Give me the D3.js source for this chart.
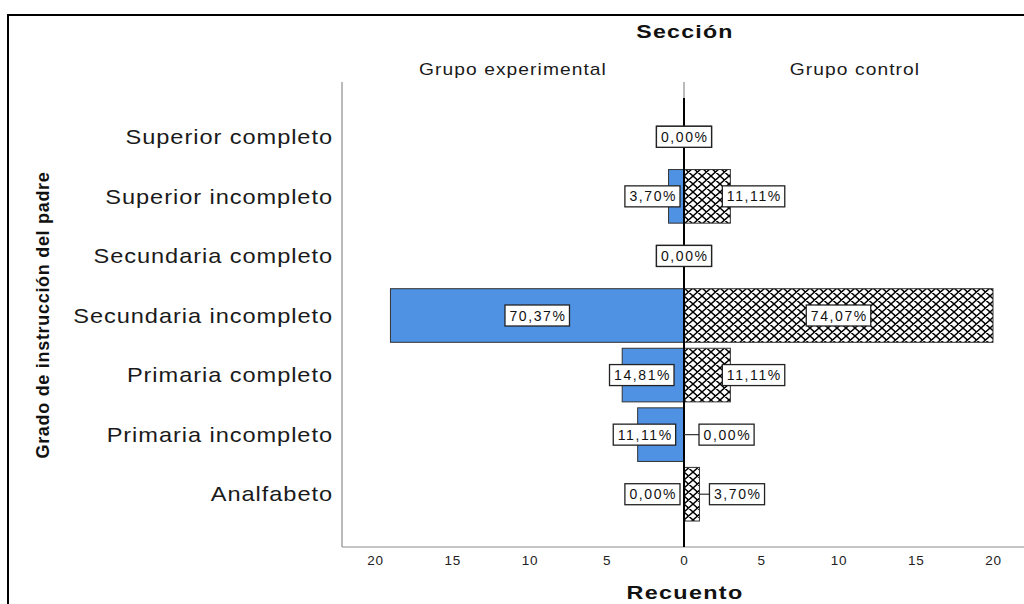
<!DOCTYPE html>
<html>
<head>
<meta charset="utf-8">
<script src="https://cdn.jsdelivr.net/npm/d3@7"></script>
<style>
  html, body { margin: 0; padding: 0; background: #fff; }
  svg { display: block; font-family: "Liberation Sans", Arial, sans-serif; }
</style>
</head>
<body>
<svg id="chart" width="1024" height="604"></svg>
<script>
// ---- Data ----
const categories = ["Superior completo", "Superior incompleto", "Secundaria completo",
  "Secundaria incompleto", "Primaria completo", "Primaria incompleto", "Analfabeto"];
const groups = ["Grupo experimental", "Grupo control"];
const experimental = [0, 1, 0, 19, 4, 3, 0];
const control = [0, 3, 0, 20, 3, 0, 1];
const expTotal = 27;
const ctrlTotal = 27;
const tickValues = [0, 5, 10, 15, 20];
const chartTitle = "Sección";
const xTitle = "Recuento";
const yTitle = "Grado de instrucción del padre";

// ---- Layout ----
const svg = d3.select("#chart");
const zero = 684, plotLeft = 342, plotRight = 1026, plotTop = 82, plotBottom = 547;
const xR = d3.scaleLinear().domain([0, 20]).range([zero, 993]);
const xL = d3.scaleLinear().domain([0, 20]).range([zero, 375]);
const y = d3.scaleBand().domain(categories).range([107, 524]).paddingInner(0.1).paddingOuter(0.05);

svg.append("rect").attr("width", 1024).attr("height", 604).attr("fill", "#fff");

function addText(parent, x, yy, txt, o) {
  const t = parent.append("text")
    .attr("transform", `translate(${x},${yy})${o.rot ? " rotate(" + o.rot + ")" : ""} scale(${o.sx || 1},1)`)
    .attr("text-anchor", o.anchor || "start")
    .attr("font-size", o.size).attr("font-weight", o.weight || "normal")
    .attr("fill", o.fill || "#1a1a1a")
    .attr("dy", o.dy || null)
    .style("letter-spacing", (o.ls || 0) + "px")
    .text(txt);
  return t;
}

// hatch pattern
const defs = svg.append("defs");
const pat = defs.append("pattern").attr("id", "hatch").attr("patternUnits", "userSpaceOnUse")
  .attr("width", 9).attr("height", 8).attr("x", zero);
pat.append("rect").attr("width", 9).attr("height", 8).attr("fill", "#fff");
pat.append("path").attr("d", "M0,0 L9,8 M9,0 L0,8 M-1,7 L1,9 M8,-1 L10,1 M8,9 L10,7 M-1,1 L1,-1")
  .attr("stroke", "#000").attr("stroke-width", 1.4);

// outer frame
svg.append("path").attr("d", "M8,604 L8,15 L1024,15").attr("fill", "none")
  .attr("stroke", "#000").attr("stroke-width", 2);

// axes lines
svg.append("line").attr("x1", plotLeft).attr("x2", plotLeft).attr("y1", plotTop).attr("y2", plotBottom)
  .attr("stroke", "#8c8c8c").attr("stroke-width", 1.2);
svg.append("line").attr("x1", plotLeft).attr("x2", plotRight).attr("y1", plotBottom).attr("y2", plotBottom)
  .attr("stroke", "#8c8c8c").attr("stroke-width", 1.2);

// tick labels via d3 axes
function styleAxis(g) {
  g.select(".domain").remove();
  g.selectAll(".tick line").remove();
  g.selectAll(".tick text").attr("font-size", 13.5).attr("fill", "#222")
    .attr("font-family", "Liberation Sans, Arial, sans-serif")
    .style("letter-spacing", "0.8px").attr("dy", "0.71em").attr("y", 8);
}
svg.append("g").attr("transform", `translate(0,${plotBottom})`)
  .call(d3.axisBottom(xR).tickValues(tickValues).tickSize(0).tickFormat(d3.format("d"))).call(styleAxis);
svg.append("g").attr("transform", `translate(0,${plotBottom})`)
  .call(d3.axisBottom(xL).tickValues(tickValues.filter(d => d > 0)).tickSize(0).tickFormat(d3.format("d"))).call(styleAxis);

// zero line
svg.append("line").attr("x1", zero).attr("x2", zero).attr("y1", plotTop).attr("y2", 100)
  .attr("stroke", "#8c8c8c").attr("stroke-width", 1.2);

// bars
svg.append("g").selectAll("rect").data(categories).join("rect")
  .attr("x", (d, i) => xL(experimental[i]))
  .attr("y", d => y(d))
  .attr("width", (d, i) => zero - xL(experimental[i]))
  .attr("height", y.bandwidth())
  .attr("fill", "#4f91e2")
  .attr("stroke", (d, i) => experimental[i] > 0 ? "#333" : "none").attr("stroke-width", 1);
svg.append("g").selectAll("rect").data(categories).join("rect")
  .attr("x", zero)
  .attr("y", d => y(d))
  .attr("width", (d, i) => xR(control[i]) - zero)
  .attr("height", y.bandwidth())
  .attr("fill", "url(#hatch)")
  .attr("stroke", (d, i) => control[i] > 0 ? "#333" : "none").attr("stroke-width", 1);

// zero line over bars
svg.append("line").attr("x1", zero).attr("x2", zero).attr("y1", 98).attr("y2", plotBottom)
  .attr("stroke", "#000").attr("stroke-width", 2);

// labels
const fmt = (c, t) => (c / t * 100).toFixed(2).replace(".", ",") + "%";
const lblG = svg.append("g");
const boxH = 21, pad = 4.5, ls = 1.6;
function drawLabel(txt, cy, placer) {
  const g = lblG.append("g");
  const rect = g.append("rect");
  const t = g.append("text").text(txt).attr("font-size", 14).attr("fill", "#111")
    .style("letter-spacing", ls + "px").attr("text-anchor", "start").attr("dy", "0.36em");
  const tw = t.node().getComputedTextLength();
  const w = tw - ls + 2 * pad;
  const p = placer(w);
  const left = p.left;
  if (p.lead) {
    g.insert("line", "rect").attr("x1", p.lead[0]).attr("x2", p.lead[1]).attr("y1", cy).attr("y2", cy)
      .attr("stroke", "#333").attr("stroke-width", 1.2);
  }
  rect.attr("x", left).attr("y", cy - boxH / 2).attr("width", w).attr("height", boxH)
    .attr("fill", "#fff").attr("stroke", "#222").attr("stroke-width", 1.3);
  t.attr("x", left + pad).attr("y", cy);
}
categories.forEach((cat, i) => {
  const cy = y(cat) + y.bandwidth() / 2;
  const e = experimental[i], c = control[i];
  const both0 = e === 0 && c === 0;
  drawLabel(fmt(e, expTotal), cy, w => {
    if (both0) return { left: zero - w / 2 };
    const bw = zero - xL(e);
    if (bw >= w + 20) return { left: (xL(e) + zero) / 2 - w / 2 };
    const right = zero - 4 - Math.max(0, (w - 57) * 0.8);
    return { left: right - w };
  });
  drawLabel(fmt(c, ctrlTotal), cy, w => {
    if (both0) return { left: zero - w / 2 };
    const bw = xR(c) - zero;
    if (bw >= w + 20) return { left: (xR(c) + zero) / 2 - w / 2 };
    if (bw >= 30) return { left: xR(c) - 8 };
    if (bw > 0) return { left: xR(c) + 10, lead: [xR(c), xR(c) + 10] };
    return { left: zero + 15, lead: [zero, zero + 15] };
  });
});

// category labels
const catG = svg.append("g");
categories.forEach(d => {
  addText(catG, 333, y(d) + y.bandwidth() / 2, d,
    { size: 20, sx: 1.18, ls: 0.8, anchor: "end", dy: "0.36em" });
});

// titles
addText(svg, 685, 38, chartTitle, { size: 19, weight: "bold", sx: 1.22, ls: 1.0, anchor: "middle", fill: "#111" });
groups.forEach((g, i) => {
  const cx = i === 0 ? (plotLeft + zero) / 2 : (zero + plotRight) / 2;
  addText(svg, cx, 75, g, { size: 16, sx: 1.2, ls: 0.9, anchor: "middle" });
});
addText(svg, 685, 599, xTitle, { size: 18, weight: "bold", sx: 1.3, ls: 1.0, anchor: "middle", fill: "#111" });
addText(svg, 49, 315, yTitle, { size: 18, weight: "bold", rot: -90, ls: 0.7, anchor: "middle", fill: "#111" });
</script>
</body>
</html>
